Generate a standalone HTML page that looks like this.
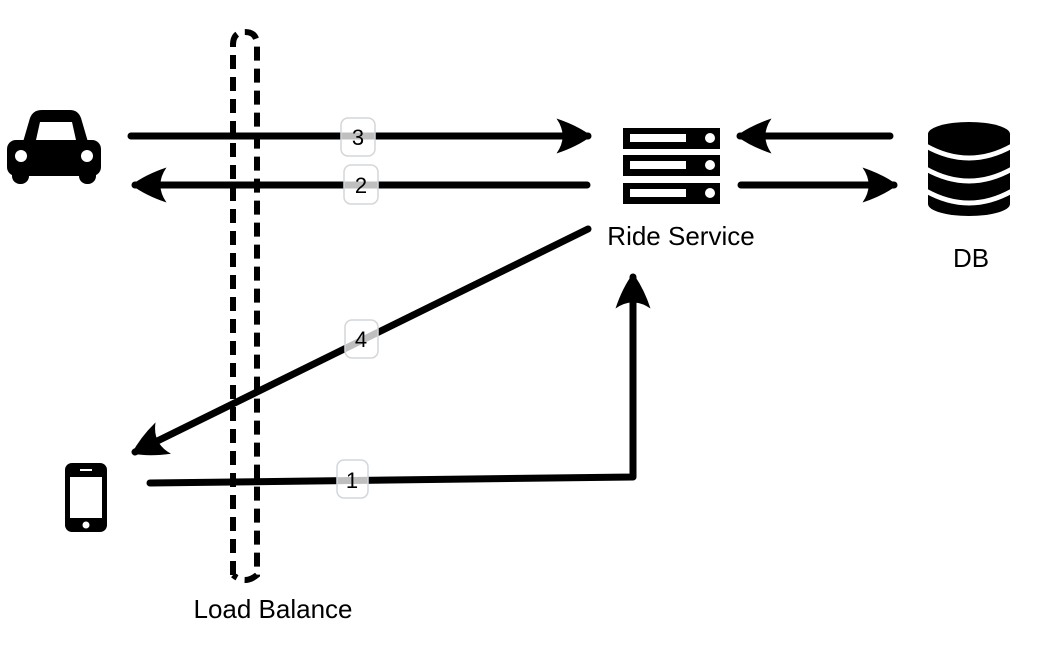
<!DOCTYPE html>
<html><head><meta charset="utf-8"><style>
html,body{margin:0;padding:0;background:#fff;width:1045px;height:646px;overflow:hidden}
text{font-family:"Liberation Sans",sans-serif}
</style></head><body>
<svg width="1045" height="646" viewBox="0 0 1045 646" xmlns="http://www.w3.org/2000/svg">
<defs>
<marker id="ah" viewBox="0 0 20 20" refX="18" refY="10" markerWidth="5" markerHeight="5" orient="auto" markerUnits="strokeWidth">
<path d="M0,0 Q12,4 20,10 Q12,16 0,20 Q7,10 0,0Z" fill="#000"/>
</marker>
</defs>
<path d="M233,575 L233,45 Q233,32 245,32 Q257,32 257,45 L257,575 Q245,585 233,575" fill="none" stroke="#000" stroke-width="6" stroke-dasharray="14,8"/>
<g fill="#000">
<path d="M23,142 L30,118 Q33,110 42,110 L70,110 Q78,110 81,118 L88,142Z"/>
<path d="M36,140 L40,122 L72,122 L76,140Z" fill="#fff"/>
<rect x="7" y="140" width="94" height="36" rx="9"/>
<rect x="12" y="160" width="17" height="24" rx="8"/>
<rect x="79" y="160" width="17" height="24" rx="8"/>
<circle cx="21" cy="156" r="6" fill="#fff"/>
<circle cx="87" cy="156" r="6" fill="#fff"/>
</g>
<rect x="65" y="463" width="42" height="69" rx="7" fill="#000"/>
<rect x="70" y="477" width="32" height="41" fill="#fff"/>
<rect x="80" y="469" width="12" height="2" fill="#fff"/>
<circle cx="86" cy="525" r="3.5" fill="#fff"/>
<g fill="#000">
<rect x="623" y="128" width="97" height="21"/>
<rect x="623" y="155" width="97" height="21"/>
<rect x="623" y="183" width="97" height="21"/>
</g>
<g fill="#fff">
<rect x="630" y="134" width="56" height="8"/><circle cx="710" cy="138" r="5"/>
<rect x="630" y="161" width="56" height="8"/><circle cx="710" cy="165" r="5"/>
<rect x="630" y="189" width="56" height="8"/><circle cx="710" cy="193" r="5"/>
</g>
<g>
<ellipse cx="969" cy="134" rx="41" ry="12" fill="#000"/>
<rect x="928" y="134" width="82" height="70" fill="#000"/>
<ellipse cx="969" cy="204" rx="41" ry="12" fill="#000"/>
<g stroke="#fff" stroke-width="5" fill="none">
<path d="M926,146 Q969,170 1012,146"/>
<path d="M926,169 Q969,193 1012,169"/>
<path d="M926,191 Q969,215 1012,191"/>
</g>
</g>
<g stroke="#000" stroke-width="7" stroke-linecap="round" fill="none">
<line x1="131" y1="136" x2="588" y2="136" marker-end="url(#ah)"/>
<line x1="587" y1="185" x2="135" y2="185" marker-end="url(#ah)"/>
<line x1="890" y1="136" x2="740" y2="136" marker-end="url(#ah)"/>
<line x1="741" y1="185" x2="894" y2="185" marker-end="url(#ah)"/>
<line x1="588" y1="229" x2="135" y2="452" marker-end="url(#ah)"/>
<polyline points="150,483 633,477 633,277" stroke-linejoin="round" marker-end="url(#ah)"/>
</g>
<g fill="#fff" fill-opacity="0.75" stroke="#d3d7da" stroke-width="1.5">
<rect x="341" y="118" width="34" height="38" rx="7"/>
<rect x="344" y="165" width="34" height="39" rx="7"/>
<rect x="345" y="320" width="33" height="38" rx="7"/>
<rect x="337" y="460" width="31" height="38" rx="7"/>
</g>
<g font-size="22" text-anchor="middle" fill="#000">
<text x="358" y="145">3</text>
<text x="361" y="193">2</text>
<text x="361" y="347">4</text>
<text x="352" y="488">1</text>
</g>
<g font-size="26" text-anchor="middle" fill="#000">
<text x="681" y="245">Ride Service</text>
<text x="971" y="267">DB</text>
<text x="273" y="618">Load Balance</text>
</g>
</svg>
</body></html>
